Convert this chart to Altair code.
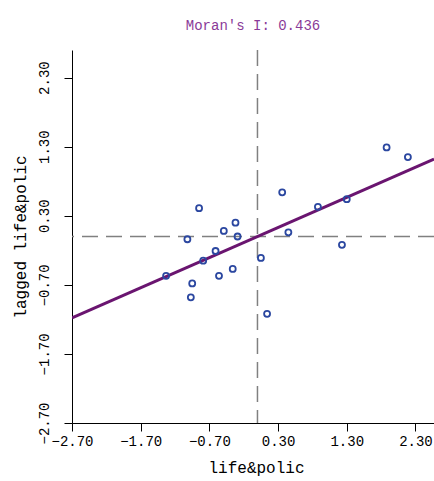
import altair as alt
import pandas as pd

# Data
x_vals = [-0.85, -1.02, -0.49, -0.32, -0.29, -0.61, -0.79, -1.33, -0.95, -0.97,
          -0.56, -0.36, 0.05, 0.14, 0.36, 0.45, 0.88, 1.30, 1.88, 2.19, 1.23]
y_vals = [0.41, -0.04, 0.08, 0.20, 0.00, -0.21, -0.35, -0.57, -0.68, -0.88,
          -0.57, -0.47, -0.31, -1.12, 0.64, 0.06, 0.43, 0.54, 1.29, 1.15, -0.12]
morans_i = 0.436
intercept = 0.0
x_ticks = [-2.7, -1.7, -0.7, 0.3, 1.3, 2.3]
y_ticks = [-2.7, -1.7, -0.7, 0.3, 1.3, 2.3]
x_domain = [-2.7, 2.57]
y_domain = [-2.7, 2.7]

pts_df = pd.DataFrame({"x": x_vals, "y": y_vals})
line_df = pd.DataFrame({"x": x_domain})

FONT = "Liberation Mono"
xs = alt.Scale(domain=x_domain, nice=False, zero=False)
ys = alt.Scale(domain=y_domain, nice=False, zero=False)

x_axis = alt.Axis(values=x_ticks, format=".2f", title="life&polic", grid=False,
                  domainColor="black", tickColor="black", tickSize=8,
                  labelFont=FONT, labelFontSize=14, labelColor="black",
                  labelPadding=3, labelFlush=False,
                  titleFont=FONT, titleFontSize=16, titleFontWeight="normal",
                  titleColor="black", titlePadding=11, titleX=184)
y_axis = alt.Axis(values=y_ticks, format=".2f", title="lagged life&polic", grid=False,
                  domainColor="black", tickColor="black", tickSize=8,
                  labelFont=FONT, labelFontSize=14, labelColor="black",
                  labelAngle=-90, labelAlign="center", labelBaseline="bottom",
                  labelPadding=13, labelFlush=False,
                  titleFont=FONT, titleFontSize=16, titleFontWeight="normal",
                  titleColor="black", titlePadding=9)

base_pts = alt.Chart(pts_df)

vline = alt.Chart(pd.DataFrame({"v": [0]})).mark_rule(
    color="#808080", strokeWidth=1.5, strokeDash=[16, 8]
).encode(x=alt.X("v:Q", scale=xs, axis=x_axis))

hline = alt.Chart(pd.DataFrame({"v": [0]})).mark_rule(
    color="#808080", strokeWidth=1.5, strokeDash=[16, 8]
).encode(y=alt.Y("v:Q", scale=ys, axis=y_axis))

reg = alt.Chart(line_df).transform_calculate(
    y=f"{morans_i} * datum.x + {intercept}"
).mark_line(color="#6a1570", strokeWidth=3, clip=True).encode(
    x=alt.X("x:Q", scale=xs, axis=x_axis),
    y=alt.Y("y:Q", scale=ys, axis=y_axis),
)

points = base_pts.mark_point(shape="circle", filled=False, color="#2b47a0",
                             size=36, strokeWidth=1.8, opacity=1, clip=True).encode(
    x=alt.X("x:Q", scale=xs, axis=x_axis),
    y=alt.Y("y:Q", scale=ys, axis=y_axis),
)

chart = alt.layer(vline, hline, reg, points).properties(
    width=362,
    height=373,
    title=alt.TitleParams(f"Moran's I: {morans_i:.3f}", color="#8a3a98", font=FONT,
                          fontSize=14, fontWeight="normal", offset=16, anchor="middle"),
    autosize=alt.AutoSizeParams(type="none"),
    padding={"left": 72, "top": 50, "right": 0, "bottom": 58},
).configure_view(stroke=None)

chart.save("out.html", embed_options={"renderer": "svg", "actions": False})
